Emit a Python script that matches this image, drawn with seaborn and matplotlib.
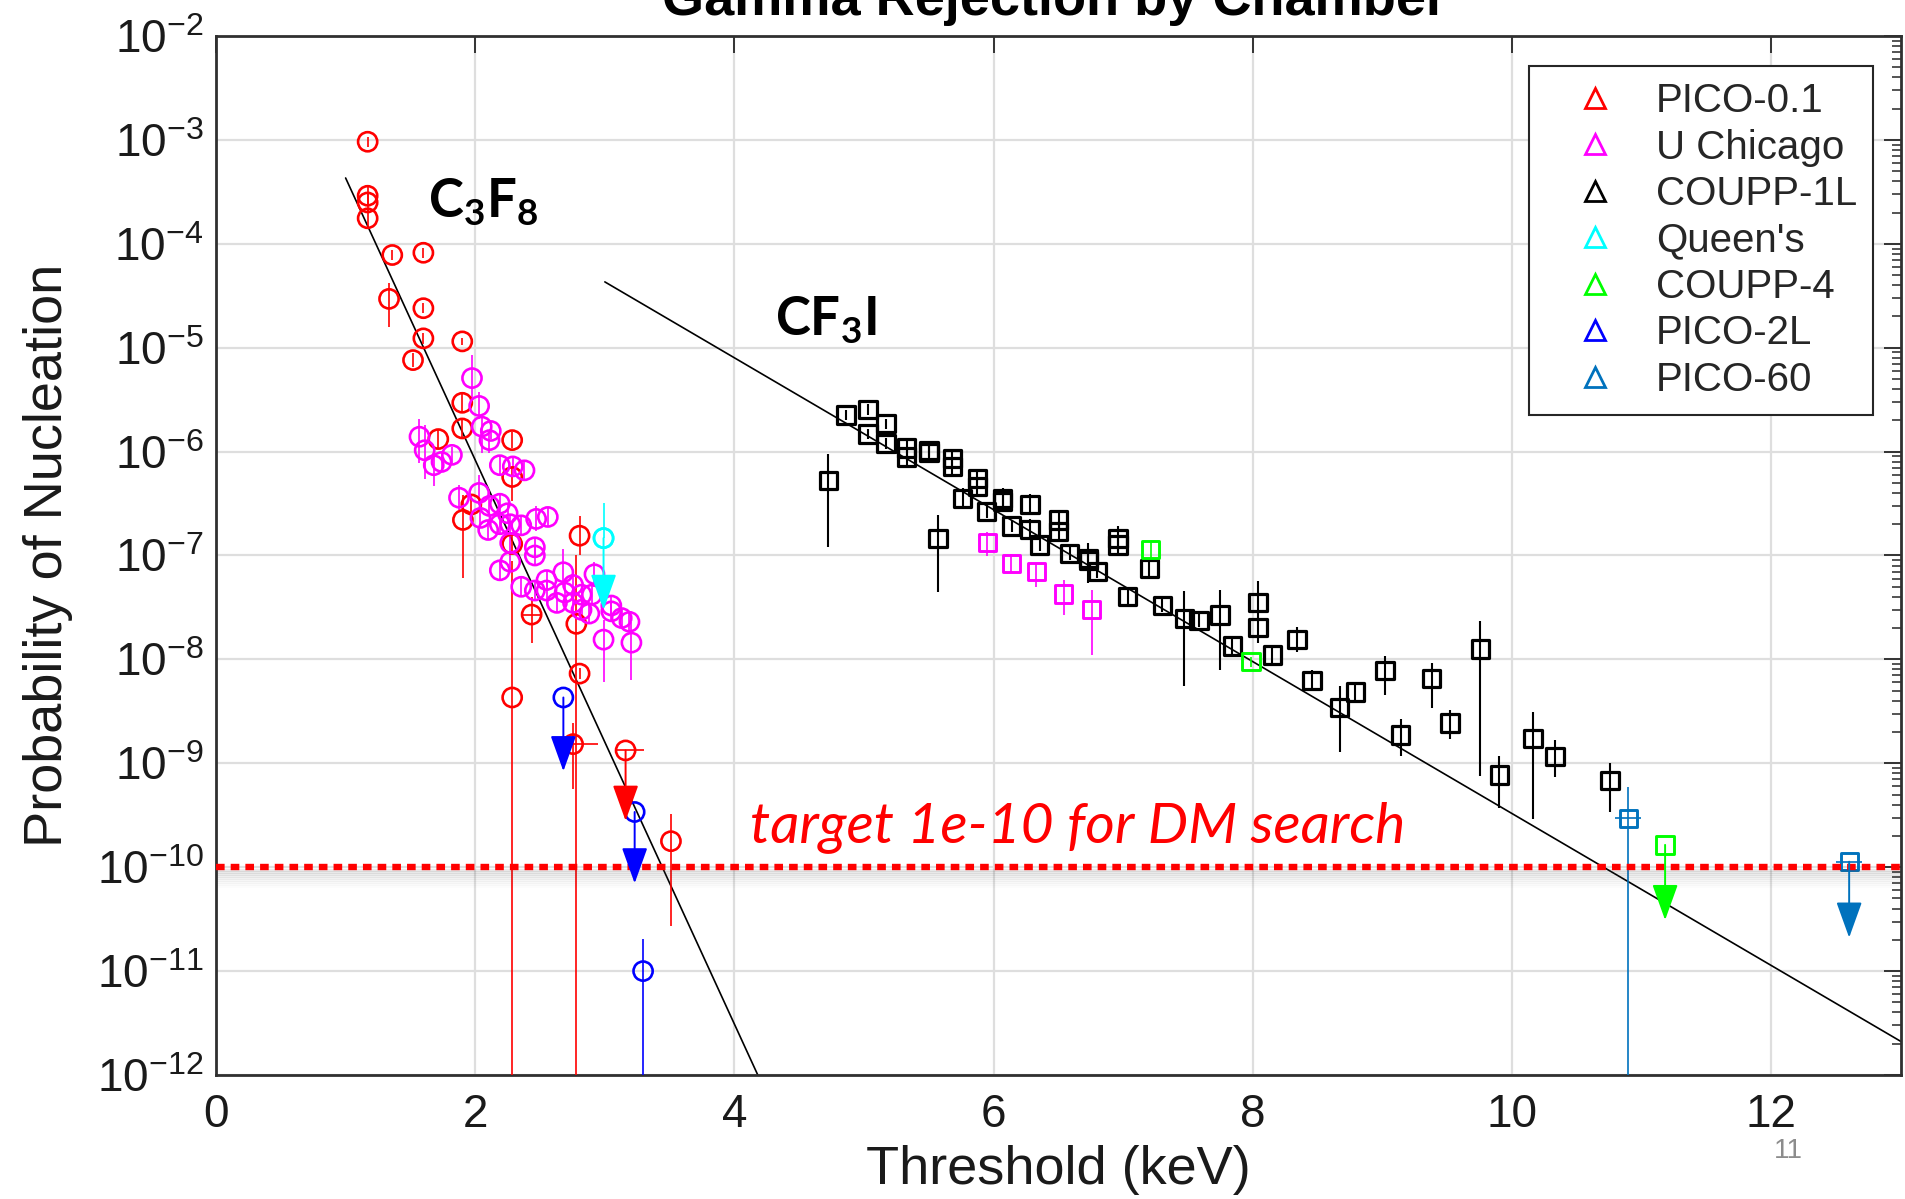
import numpy as np
import matplotlib
matplotlib.use("Agg")
import matplotlib.pyplot as plt
import matplotlib.transforms as mtransforms
from matplotlib.lines import Line2D
from matplotlib.ticker import LogLocator, NullFormatter
import seaborn as sns

# ---------------- data ----------------
# PICO-0.1 (C3F8): measured points, error bars given in decades below / above
p01_x = [1.17, 1.17, 1.17, 1.17, 1.36, 1.60, 1.335, 1.60, 1.60, 1.52, 1.90, 1.90, 1.90,
         1.715, 2.285, 2.285, 1.97, 1.905, 2.285, 2.805, 2.435, 2.78, 2.805, 2.285, 2.755, 3.51]
p01_y = [9.6e-4, 2.9e-4, 2.5e-4, 1.76e-4, 7.8e-5, 8.2e-5, 2.95e-5, 2.4e-5, 1.23e-5, 7.6e-6,
         1.15e-5, 2.95e-6, 1.67e-6, 1.32e-6, 1.29e-6, 5.7e-7, 3.1e-7, 2.2e-7, 1.29e-7, 1.55e-7,
         2.7e-8, 2.2e-8, 7.3e-9, 4.3e-9, 1.53e-9, 1.78e-10]
p01_dn = [0.05, 0.1, 0.1, 0.1, 0.05, 0.05, 0.27, 0.05, 0.05, 0.07, 0.03, 0.08, 0.08,
          0.1, 0.08, 0.23, 0.1, 0.56, 0.1, 0.19, 0.27, 6.0, 0.05, 6.0, 0.43, 0.82]
p01_up = [0.05, 0.1, 0.1, 0.1, 0.05, 0.05, 0.15, 0.05, 0.05, 0.07, 0.03, 0.08, 0.08,
          0.1, 0.08, 0.1, 0.1, 0.24, 0.1, 0.19, 0.17, 0.66, 0.05, 1.31, 0.2, 0.26]
p01_xlo = [0, 0, 0, 0, 0, 0, 0, 0, 0, 0, 0, 0, 0, 0, 0, 0, 0, 0, 0, 0, 0.08, 0, 0, 0, 0.065, 0]
p01_xhi = [0, 0, 0, 0, 0, 0, 0, 0, 0, 0, 0, 0, 0, 0, 0, 0, 0, 0, 0, 0, 0.08, 0, 0, 0, 0.19, 0]
# PICO-0.1 upper limit
p01_lim_x = [3.16]
p01_lim_y = [1.33e-9]
p01_lim_tip = [2.8e-10]
p01_lim_xlo = [0.07]
p01_lim_xhi = [0.14]

# U Chicago (C3F8)
ucc_x = [1.975, 2.03, 2.05, 2.12, 2.11, 1.57, 1.61, 1.82, 1.74, 1.68, 2.19, 2.29, 2.38,
         1.875, 2.03, 2.11, 2.19, 2.25, 2.04, 2.10, 2.19, 2.27, 2.355, 2.47, 2.56, 2.27,
         2.46, 2.46, 2.19, 2.27, 2.355, 2.46, 2.55, 2.55, 2.63, 2.68, 2.69, 2.755, 2.755,
         2.82, 2.82, 2.88, 2.92, 2.90, 3.05, 3.05, 3.13, 3.19, 2.99, 3.205]
ucc_y = [5.1e-6, 2.75e-6, 1.74e-6, 1.58e-6, 1.29e-6, 1.39e-6, 1.03e-6, 9.3e-7, 7.95e-7,
         7.4e-7, 7.4e-7, 7.2e-7, 6.6e-7, 3.6e-7, 4.0e-7, 3.0e-7, 3.15e-7, 2.55e-7, 2.3e-7,
         1.76e-7, 2.0e-7, 2.0e-7, 1.95e-7, 2.25e-7, 2.35e-7, 1.32e-7, 1.2e-7, 1.0e-7, 7.2e-8,
         8.7e-8, 5.0e-8, 4.6e-8, 5.8e-8, 4.6e-8, 3.5e-8, 6.9e-8, 4.4e-8, 5.2e-8, 3.5e-8,
         3.0e-8, 4.2e-8, 2.76e-8, 6.6e-8, 4.2e-8, 2.9e-8, 3.3e-8, 2.5e-8, 2.3e-8, 1.55e-8,
         1.45e-8]
ucc_dn = [0.21, 0.13, 0.25, 0.08, 0.12, 0.25, 0.28, 0.08, 0.08, 0.2, 0.1, 0.1, 0.1,
          0.12, 0.12, 0.1, 0.1, 0.1, 0.1, 0.1, 0.1, 0.1, 0.1, 0.12, 0.1, 0.1,
          0.1, 0.1, 0.1, 0.1, 0.1, 0.1, 0.1, 0.1, 0.1, 0.12, 0.1, 0.1, 0.1,
          0.1, 0.1, 0.1, 0.12, 0.1, 0.1, 0.1, 0.1, 0.1, 0.41, 0.36]
ucc_up = [0.22, 0.13, 0.10, 0.08, 0.08, 0.17, 0.24, 0.08, 0.08, 0.08, 0.1, 0.1, 0.1,
          0.12, 0.17, 0.1, 0.1, 0.1, 0.1, 0.1, 0.1, 0.1, 0.1, 0.12, 0.1, 0.1,
          0.1, 0.1, 0.1, 0.1, 0.1, 0.1, 0.1, 0.1, 0.1, 0.22, 0.1, 0.1, 0.1,
          0.1, 0.1, 0.1, 0.12, 0.1, 0.1, 0.1, 0.1, 0.1, 0.19, 0.2]

# Queen's (C3F8): upper limit with upward error
qn_x = [2.99]
qn_y = [1.47e-7]
qn_up = [0.34]
qn_tip = [3.0e-8]

# PICO-2L (C3F8)
p2l_x = [3.295]
p2l_y = [1.0e-11]
p2l_dn = [6.0]
p2l_up = [0.31]
p2l_lim_x = [2.68, 3.23]
p2l_lim_y = [4.3e-9, 3.4e-10]
p2l_lim_tip = [8.4e-10, 7.0e-11]

# COUPP-1L (CF3I)
c1l_x = [4.725, 4.86, 5.03, 5.03, 5.17, 5.17, 5.33, 5.33, 5.50, 5.50, 5.68, 5.68, 5.875,
         5.875, 5.76, 5.945, 6.07, 6.07, 6.14, 6.28, 6.28, 5.57, 6.355, 6.50, 6.50, 6.585,
         6.73, 6.73, 6.80, 6.96, 6.96, 7.20, 7.035, 7.30, 7.47, 7.585, 7.745, 7.84, 8.04,
         8.04, 8.15, 8.34, 8.455, 8.67, 8.79, 9.02, 9.14, 9.38, 9.52, 9.755, 9.90, 10.16,
         10.33, 10.755]
c1l_y = [5.3e-7, 2.25e-6, 2.55e-6, 1.48e-6, 1.85e-6, 1.2e-6, 1.08e-6, 8.9e-7, 1.03e-6,
         9.8e-7, 8.6e-7, 7.2e-7, 5.5e-7, 4.6e-7, 3.55e-7, 2.64e-7, 3.55e-7, 3.3e-7, 1.92e-7,
         3.1e-7, 1.79e-7, 1.46e-7, 1.26e-7, 2.19e-7, 1.69e-7, 1.05e-7, 9.4e-8, 8.9e-8, 7.0e-8,
         1.46e-7, 1.26e-7, 7.5e-8, 4.0e-8, 3.3e-8, 2.48e-8, 2.36e-8, 2.67e-8, 1.35e-8,
         3.55e-8, 2.04e-8, 1.1e-8, 1.55e-8, 6.3e-9, 3.45e-9, 4.85e-9, 7.8e-9, 1.87e-9,
         6.5e-9, 2.45e-9, 1.26e-8, 7.7e-10, 1.74e-9, 1.16e-9, 6.8e-10]
c1l_dn = [0.64, 0.05, 0.05, 0.05, 0.05, 0.05, 0.08, 0.08, 0.06, 0.06, 0.08, 0.08, 0.08,
          0.08, 0.1, 0.06, 0.1, 0.1, 0.06, 0.1, 0.1, 0.52, 0.06, 0.1, 0.1, 0.06,
          0.24, 0.1, 0.06, 0.12, 0.1, 0.08, 0.08, 0.06, 0.65, 0.06, 0.53, 0.08, 0.1,
          0.15, 0.08, 0.12, 0.1, 0.43, 0.1, 0.23, 0.2, 0.28, 0.16, 1.22, 0.32, 0.78,
          0.2, 0.3]
c1l_up = [0.25, 0.05, 0.05, 0.05, 0.05, 0.05, 0.08, 0.08, 0.06, 0.06, 0.08, 0.08, 0.08,
          0.08, 0.1, 0.06, 0.1, 0.1, 0.06, 0.1, 0.1, 0.23, 0.06, 0.1, 0.1, 0.06,
          0.15, 0.1, 0.06, 0.12, 0.1, 0.08, 0.08, 0.06, 0.26, 0.06, 0.24, 0.08, 0.2,
          0.15, 0.08, 0.12, 0.1, 0.21, 0.1, 0.14, 0.15, 0.15, 0.12, 0.27, 0.18, 0.25,
          0.16, 0.17]

# U Chicago (CF3I)
ucf_x = [5.95, 6.135, 6.33, 6.54, 6.755]
ucf_y = [1.33e-7, 8.4e-8, 7.0e-8, 4.27e-8, 3.03e-8]
ucf_dn = [0.13, 0.09, 0.15, 0.2, 0.44]
ucf_up = [0.1, 0.09, 0.08, 0.13, 0.19]

# COUPP-4 (CF3I)
c4_x = [7.21, 7.985]
c4_y = [1.14e-7, 9.5e-9]
c4_dn = [0.08, 0.05]
c4_up = [0.08, 0.05]
c4_lim_x = [11.18]
c4_lim_y = [1.64e-10]
c4_lim_tip = [3.1e-11]

# PICO-60 (CF3I)
p60_x = [10.895]
p60_y = [2.95e-10]
p60_dn = [6.0]
p60_up = [0.3]
p60_xerr = [0.1]
p60_lim_x = [12.60]
p60_lim_y = [1.13e-10]
p60_lim_tip = [2.1e-11]
p60_lim_xerr = [0.1]

# exponential fits for the two target fluids
c3f8_fit_x = [1.0, 4.18]
c3f8_fit_y = [4.3e-4, 1.0e-12]
cf3i_fit_x = [3.0, 13.0]
cf3i_fit_y = [4.3e-5, 2.1e-12]

dm_target = 1e-10

chambers = ["PICO-0.1", "U Chicago", "COUPP-1L", "Queen's", "COUPP-4", "PICO-2L", "PICO-60"]
chamber_colors = ["#FF0000", "#FF00FF", "#000000", "#00FFFF", "#00FF00", "#0000FF", "#0072BD"]
col = dict(zip(chambers, chamber_colors))

# ---------------- style ----------------
sns.set_style("white")
plt.rcParams["font.family"] = ["Liberation Sans", "DejaVu Sans"]
plt.rcParams["mathtext.fontset"] = "custom"
plt.rcParams["mathtext.rm"] = "Liberation Sans"
plt.rcParams["mathtext.bf"] = "Lato:bold"
plt.rcParams["mathtext.it"] = "Liberation Sans:italic"

W, H = 1905, 1199
fig = plt.figure(figsize=(W / 100, H / 100), dpi=100)
ax = fig.add_axes([216 / W, 1 - 1075 / H, 1685 / W, 1039 / H])

CIRCLE_S = 190
SQUARE_S = 155


def draw_points(x, y, dn, up, color, marker, size, xlo=None, xhi=None, elw=1.2, mlw=1.9):
    x = np.asarray(x, float)
    y = np.asarray(y, float)
    lo = y * 10.0 ** (-np.asarray(dn, float))
    hi = y * 10.0 ** np.asarray(up, float)
    xerr = None if xlo is None else [np.asarray(xlo, float), np.asarray(xhi, float)]
    ax.errorbar(x, y, yerr=[y - lo, hi - y], xerr=xerr, fmt="none", ecolor=color,
                elinewidth=elw, capsize=0, zorder=3)
    sns.scatterplot(x=x, y=y, marker=marker, s=size, color=color, facecolor="none",
                    edgecolor=color, linewidth=mlw, ax=ax, zorder=4, legend=False)


def draw_limits(x, y, tip, color, marker, size, xlo=None, xhi=None, mlw=1.9):
    x = np.asarray(x, float)
    y = np.asarray(y, float)
    if xlo is not None:
        ax.errorbar(x, y, xerr=[np.asarray(xlo, float), np.asarray(xhi, float)], fmt="none",
                    ecolor=color, elinewidth=1.2, capsize=0, zorder=3)
    sns.scatterplot(x=x, y=y, marker=marker, s=size, color=color, facecolor="none",
                    edgecolor=color, linewidth=mlw, ax=ax, zorder=4, legend=False)
    for xi, yi, ti in zip(x, y, tip):
        ax.annotate("", xy=(xi, ti), xytext=(xi, yi),
                    arrowprops=dict(arrowstyle="-|>,head_length=0.75,head_width=0.27",
                                    color=color, lw=1.4, mutation_scale=30,
                                    shrinkA=0, shrinkB=0),
                    zorder=7)


# fitted trend lines
sns.lineplot(x=c3f8_fit_x, y=c3f8_fit_y, color="black", lw=1.2, ax=ax, zorder=2)
sns.lineplot(x=cf3i_fit_x, y=cf3i_fit_y, color="black", lw=1.2, ax=ax, zorder=2)

# C3F8 chambers
draw_points(p01_x, p01_y, p01_dn, p01_up, col["PICO-0.1"], "o", CIRCLE_S, p01_xlo, p01_xhi)
draw_limits(p01_lim_x, p01_lim_y, p01_lim_tip, col["PICO-0.1"], "o", CIRCLE_S,
            p01_lim_xlo, p01_lim_xhi)
draw_points(ucc_x, ucc_y, ucc_dn, ucc_up, col["U Chicago"], "o", CIRCLE_S)
draw_points(qn_x, qn_y, [0.0], qn_up, col["Queen's"], "o", CIRCLE_S)
draw_limits(qn_x, qn_y, qn_tip, col["Queen's"], "o", CIRCLE_S)
draw_points(p2l_x, p2l_y, p2l_dn, p2l_up, col["PICO-2L"], "o", CIRCLE_S)
draw_limits(p2l_lim_x, p2l_lim_y, p2l_lim_tip, col["PICO-2L"], "o", CIRCLE_S)

# CF3I chambers
draw_points(c1l_x, c1l_y, c1l_dn, c1l_up, col["COUPP-1L"], "s", SQUARE_S, elw=1.5, mlw=2.3)
draw_points(ucf_x, ucf_y, ucf_dn, ucf_up, col["U Chicago"], "s", SQUARE_S, mlw=2.1)
draw_points(c4_x, c4_y, c4_dn, c4_up, col["COUPP-4"], "s", SQUARE_S, mlw=2.1)
draw_limits(c4_lim_x, c4_lim_y, c4_lim_tip, col["COUPP-4"], "s", SQUARE_S, mlw=2.1)
draw_points(p60_x, p60_y, p60_dn, p60_up, col["PICO-60"], "s", SQUARE_S,
            p60_xerr, p60_xerr, mlw=2.1)
draw_limits(p60_lim_x, p60_lim_y, p60_lim_tip, col["PICO-60"], "s", SQUARE_S,
            p60_lim_xerr, p60_lim_xerr, mlw=2.1)

# dark-matter search target with a soft drop shadow underneath
for k, a in enumerate([0.11, 0.10, 0.09, 0.075, 0.06, 0.045, 0.035, 0.025, 0.015]):
    tr = mtransforms.offset_copy(ax.get_yaxis_transform(), fig=fig,
                                 x=0, y=-(3 + 2.0 * k), units="dots")
    ax.plot([0, 1], [dm_target, dm_target], transform=tr, color="#404040",
            alpha=a, lw=2.2, solid_capstyle="butt", zorder=4.5)
ax.axhline(dm_target, color="#FF0000", lw=4.6, ls=(0, (1.35, 0.95)), zorder=5)

# axes
ax.set_yscale("log")
ax.set_xlim(0, 13)
ax.set_ylim(1e-12, 1e-2)
ax.set_xticks([0, 2, 4, 6, 8, 10, 12])
ax.set_yticks([10.0 ** k for k in range(-12, -1)])
ax.yaxis.set_minor_locator(LogLocator(base=10, subs=np.arange(2, 10), numticks=30))
ax.yaxis.set_minor_formatter(NullFormatter())
ax.grid(True, which="major", color="#dedede", lw=1.6)
ax.set_axisbelow(True)
ax.tick_params(which="both", direction="in", top=True, right=True, colors="#262626",
               labelcolor="#1a1a1a")
ax.tick_params(which="major", length=12, width=1.3, labelsize=33)
ax.tick_params(which="minor", length=6.5, width=1.1)
ax.tick_params(axis="x", which="major", pad=13)
ax.tick_params(axis="y", which="major", pad=9)
for s in ax.spines.values():
    s.set_color("#303030")
    s.set_linewidth(2.0)

ax.set_xlabel("Threshold (keV)", fontsize=39, color="#1a1a1a")
ax.set_ylabel("Probability of Nucleation", fontsize=39, color="#1a1a1a")
ax.xaxis.set_label_coords(0.5, -0.067)
ax.yaxis.set_label_coords(-0.085, 0.5)

# fluid labels
ax.text(1.635, 1.77e-4, r"$\mathbf{C_3F_8}$", fontsize=38, va="baseline", ha="left",
        color="black", zorder=8)
ax.text(4.31, 1.32e-5, r"$\mathbf{CF_3I}$", fontsize=38, va="baseline", ha="left",
        color="black", zorder=8)
ax.text(4.117, 1.75e-10, "target 1e-10 for DM search", fontsize=41, fontstyle="italic",
        family=["Lato", "DejaVu Sans"], color="#FF0000", va="baseline", ha="left", zorder=8)

# legend
handles = [Line2D([], [], ls="none", marker="^", markersize=15, markerfacecolor="none",
                  markeredgecolor=c, markeredgewidth=2.0) for c in chamber_colors]
leg = ax.legend(handles, chambers, loc="upper right", bbox_to_anchor=(0.9834, 0.9711),
                borderaxespad=0, fontsize=29, frameon=True, fancybox=False,
                edgecolor="#262626", framealpha=1, borderpad=0.4, handlelength=2.5,
                handletextpad=0.25, labelspacing=0.21)
leg.get_frame().set_linewidth(1.5)
leg.set_zorder(10)

fig.text(0.5535, 0.9875, "Gamma Rejection by Chamber", fontsize=39, fontweight="bold",
         ha="center", va="baseline", color="black")
fig.text(0.939, 0.034, "11", fontsize=20, color="#8c8c8c", ha="center", va="baseline")

fig.savefig("out.png", dpi=100)
